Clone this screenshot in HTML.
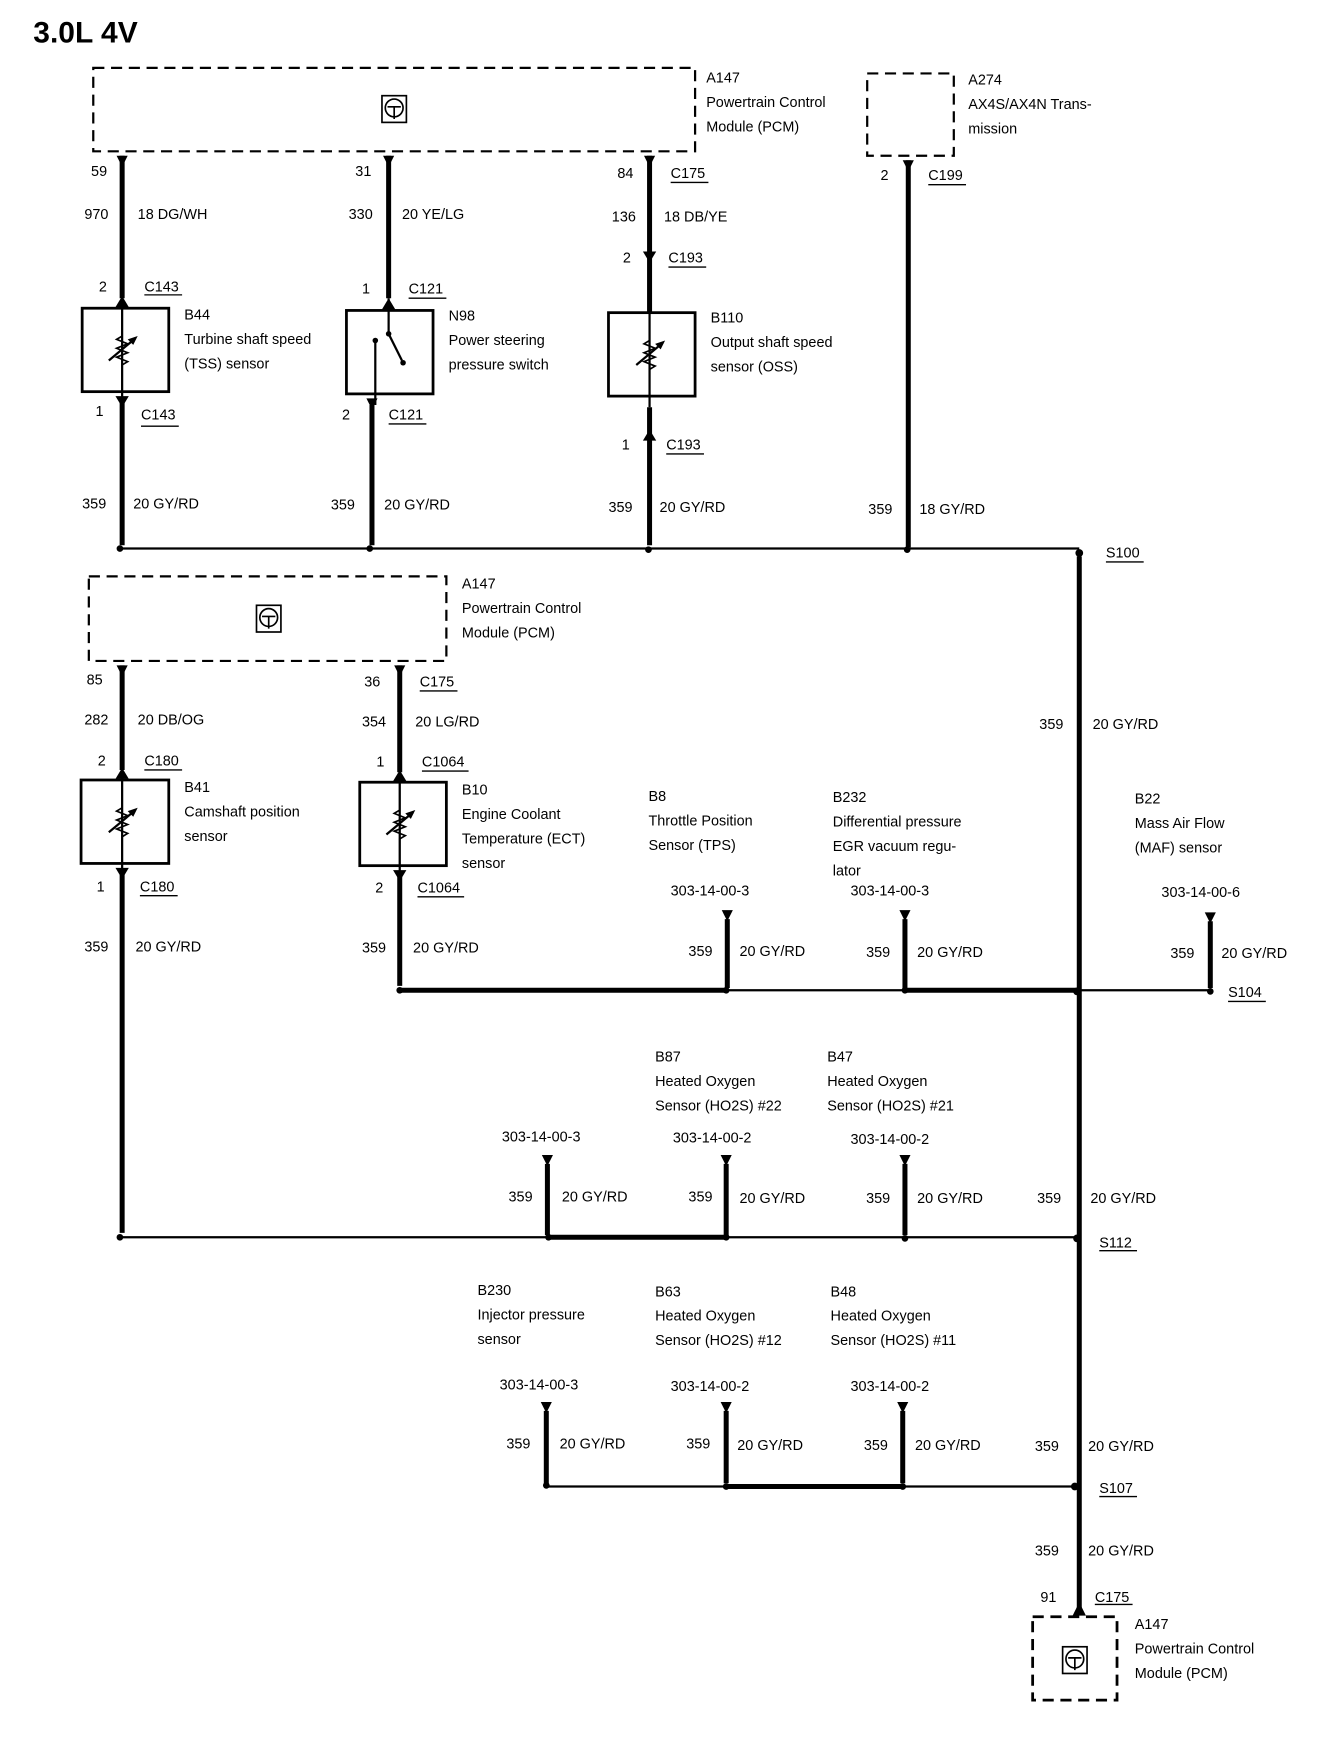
<!DOCTYPE html>
<html><head><meta charset="utf-8"><style>
html,body{margin:0;padding:0;background:#fff}
svg{display:block}
text{font-family:"Liberation Sans",sans-serif;font-size:13px;fill:#000}
</style></head><body>
<svg width="1328" height="1738" viewBox="0 0 1196 1562" preserveAspectRatio="none" xmlns="http://www.w3.org/2000/svg">
<defs>
<g id="res">
<path d="M0,-37 V-12 l-5,3 l10,4 l-10,4 l10,4 l-10,4 l10,4 l-5,3 V37" fill="none" stroke="#000" stroke-width="1.5"/>
<path d="M-12,10 L12,-10" stroke="#000" stroke-width="2"/>
<polygon points="14,-12 5,-9 10,-4" fill="#000"/>
</g>
<g id="pcm">
<rect x="-11" y="-12" width="22" height="24" fill="none" stroke="#000" stroke-width="1.5"/>
<circle cx="0" cy="-1" r="8" fill="none" stroke="#000" stroke-width="1.5"/>
<path d="M-6,-2 L6,-2 M0,-2 V9" stroke="#000" stroke-width="1.5"/>
</g>
<g id="tri"><polygon points="-5,0 5,0 0,10" fill="#000"/></g>
</defs>
<g stroke="#000" fill="none">
<!-- boxes dashed -->
<rect x="84" y="61" width="542" height="75" stroke-width="2" stroke-dasharray="10,6"/>
<rect x="781" y="66" width="78" height="74" stroke-width="2" stroke-dasharray="10,6"/>
<rect x="80" y="518" width="322" height="76" stroke-width="2" stroke-dasharray="10,6"/>
<rect x="930" y="1453" width="76" height="75" stroke-width="2.5" stroke-dasharray="10,6"/>
<!-- sensor boxes -->
<rect x="74" y="277" width="78" height="75" stroke-width="2.5"/>
<rect x="312" y="279" width="78" height="75" stroke-width="2.5"/>
<rect x="548" y="281" width="78" height="75" stroke-width="2.5"/>
<rect x="73" y="701" width="79" height="75" stroke-width="2.5"/>
<rect x="324" y="703" width="78" height="75" stroke-width="2.5"/>
<!-- thick wires -->
<g stroke-width="4.5">
<path d="M110,140 V268 M110,362 V490"/>
<path d="M350,140 V268 M335,364 V490"/>
<path d="M585,140 V280 M585,366 V490"/>
<path d="M818,144 V492"/>
<path d="M972,500 V1445"/>
<path d="M110,598 V692 M110,786 V1108"/>
<path d="M360,598 V694 M360,788 V886"/>
<path d="M655,826 V888 M815,826 V888 M1090,828 V888"/>
<path d="M493,1046 V1110 M654,1046 V1110 M815,1046 V1110"/>
<path d="M492,1268 V1333 M654,1268 V1333 M813,1268 V1333"/>
<path d="M360,890 H654 M815,890 H970"/>
<path d="M494,1112 H654"/>
<path d="M654,1336 H813"/>
</g>
<!-- thin wires -->
<g stroke-width="2">
<path d="M110,268 V362 M350,268 V300 L362,324 M338,306 V364 M585,280 V366"/>
<path d="M110,692 V786 M360,694 V788"/>
<path d="M108,493 H972"/>
<path d="M654,890 H815 M970,890 H1090"/>
<path d="M108,1112 H494 M654,1112 H970"/>
<path d="M492,1336 H654 M813,1336 H968"/>
</g>
<!-- underlines -->
<g stroke-width="1.2">
<path d="M130,265 H164 M127,383 H161 M368,268 H402 M350,381 H384 M604,164 H638 M602,240 H636 M600,408 H634 M836,166 H870 M996,505 H1030"/>
<path d="M130,692 H164 M126,805 H160 M378,621 H412 M380,693 H422 M376,806 H418 M1106,900 H1140 M990,1124 H1024 M990,1345 H1024 M986,1442 H1020"/>
</g>
</g>
<!-- connector chevrons -->
<g fill="#000">
<polygon points="105,140 115,140 110,150"/><polygon points="345,140 355,140 350,150"/><polygon points="580,140 590,140 585,150"/><polygon points="813,144 823,144 818,154"/>
<polygon points="104,276 116,276 110,266"/><polygon points="344,278 356,278 350,268"/><polygon points="579,226 591,226 585,236"/>
<polygon points="104,356 116,356 110,366"/><polygon points="330,358 340,358 335,368"/><polygon points="579,396 591,396 585,386"/>
<polygon points="105,598 115,598 110,608"/><polygon points="355,598 365,598 360,608"/>
<polygon points="104,700 116,700 110,690"/><polygon points="354,702 366,702 360,692"/>
<polygon points="104,780 116,780 110,790"/><polygon points="354,782 366,782 360,792"/>
<polygon points="966,1452 978,1452 972,1440"/>
<use href="#tri" x="655" y="818"/><use href="#tri" x="815" y="818"/><use href="#tri" x="1090" y="820"/>
<use href="#tri" x="493" y="1038"/><use href="#tri" x="654" y="1038"/><use href="#tri" x="815" y="1038"/>
<use href="#tri" x="492" y="1260"/><use href="#tri" x="654" y="1260"/><use href="#tri" x="813" y="1260"/>
<!-- dots -->
<circle cx="108" cy="493" r="3"/><circle cx="333" cy="493" r="3"/><circle cx="584" cy="494" r="3"/><circle cx="817" cy="494" r="3"/><circle cx="972" cy="497" r="3.5"/>
<circle cx="360" cy="890" r="3"/><circle cx="654" cy="890" r="3"/><circle cx="815" cy="890" r="3"/><circle cx="970" cy="891" r="3.5"/><circle cx="1090" cy="891" r="3"/>
<circle cx="108" cy="1112" r="3"/><circle cx="494" cy="1112" r="3"/><circle cx="654" cy="1112" r="3"/><circle cx="815" cy="1113" r="3"/><circle cx="970" cy="1113" r="3.5"/>
<circle cx="492" cy="1335" r="3"/><circle cx="654" cy="1336" r="3"/><circle cx="813" cy="1336" r="3"/><circle cx="968" cy="1336" r="3.5"/>
<circle cx="350" cy="300" r="2.5"/><circle cx="363" cy="326" r="2.5"/><circle cx="338" cy="306" r="2.5"/>
</g>
<use href="#res" x="110" y="314"/><use href="#res" x="585" y="318"/><use href="#res" x="110" y="738"/><use href="#res" x="360" y="740"/>
<use href="#pcm" x="355" y="98"/><use href="#pcm" x="242" y="556"/><use href="#pcm" x="968" y="1492"/>
<!-- title -->
<text x="30" y="38" style="font-size:27px;font-weight:bold">3.0L 4V</text>
<!-- labels top -->
<text x="636" y="74">A147</text><text x="636" y="96">Powertrain Control</text><text x="636" y="118">Module (PCM)</text>
<text x="872" y="76">A274</text><text x="872" y="98">AX4S/AX4N Trans-</text><text x="872" y="120">mission</text>
<text x="82" y="158">59</text><text x="76" y="197">970</text><text x="124" y="197">18 DG/WH</text>
<text x="89" y="262">2</text><text x="130" y="262">C143</text>
<text x="166" y="287">B44</text><text x="166" y="309">Turbine shaft speed</text><text x="166" y="331">(TSS) sensor</text>
<text x="86" y="374">1</text><text x="127" y="377">C143</text>
<text x="74" y="457">359</text><text x="120" y="457">20 GY/RD</text>
<text x="320" y="158">31</text><text x="314" y="197">330</text><text x="362" y="197">20 YE/LG</text>
<text x="326" y="264">1</text><text x="368" y="264">C121</text>
<text x="404" y="288">N98</text><text x="404" y="310">Power steering</text><text x="404" y="332">pressure switch</text>
<text x="308" y="377">2</text><text x="350" y="377">C121</text>
<text x="298" y="458">359</text><text x="346" y="458">20 GY/RD</text>
<text x="556" y="160">84</text><text x="604" y="160">C175</text><text x="551" y="199">136</text><text x="598" y="199">18 DB/YE</text>
<text x="561" y="236">2</text><text x="602" y="236">C193</text>
<text x="640" y="290">B110</text><text x="640" y="312">Output shaft speed</text><text x="640" y="334">sensor (OSS)</text>
<text x="560" y="404">1</text><text x="600" y="404">C193</text>
<text x="548" y="460">359</text><text x="594" y="460">20 GY/RD</text>
<text x="793" y="162">2</text><text x="836" y="162">C199</text>
<text x="782" y="462">359</text><text x="828" y="462">18 GY/RD</text>
<text x="996" y="501">S100</text>
<!-- middle -->
<text x="416" y="529">A147</text><text x="416" y="551">Powertrain Control</text><text x="416" y="573">Module (PCM)</text>
<text x="78" y="615">85</text><text x="76" y="651">282</text><text x="124" y="651">20 DB/OG</text>
<text x="88" y="688">2</text><text x="130" y="688">C180</text>
<text x="166" y="712">B41</text><text x="166" y="734">Camshaft position</text><text x="166" y="756">sensor</text>
<text x="87" y="801">1</text><text x="126" y="801">C180</text>
<text x="76" y="855">359</text><text x="122" y="855">20 GY/RD</text>
<text x="328" y="617">36</text><text x="378" y="617">C175</text><text x="326" y="653">354</text><text x="374" y="653">20 LG/RD</text>
<text x="339" y="689">1</text><text x="380" y="689">C1064</text>
<text x="416" y="714">B10</text><text x="416" y="736">Engine Coolant</text><text x="416" y="758">Temperature (ECT)</text><text x="416" y="780">sensor</text>
<text x="338" y="802">2</text><text x="376" y="802">C1064</text>
<text x="326" y="856">359</text><text x="372" y="856">20 GY/RD</text>
<text x="584" y="720">B8</text><text x="584" y="742">Throttle Position</text><text x="584" y="764">Sensor (TPS)</text>
<text x="604" y="805">303-14-00-3</text><text x="620" y="859">359</text><text x="666" y="859">20 GY/RD</text>
<text x="750" y="721">B232</text><text x="750" y="743">Differential pressure</text><text x="750" y="765">EGR vacuum regu-</text><text x="750" y="787">lator</text>
<text x="766" y="805">303-14-00-3</text><text x="780" y="860">359</text><text x="826" y="860">20 GY/RD</text>
<text x="1022" y="722">B22</text><text x="1022" y="744">Mass Air Flow</text><text x="1022" y="766">(MAF) sensor</text>
<text x="1046" y="806">303-14-00-6</text><text x="1054" y="861">359</text><text x="1100" y="861">20 GY/RD</text>
<text x="1106" y="896">S104</text>
<text x="936" y="655">359</text><text x="984" y="655">20 GY/RD</text>
<!-- S112 row -->
<text x="590" y="954">B87</text><text x="590" y="976">Heated Oxygen</text><text x="590" y="998">Sensor (HO2S) #22</text>
<text x="745" y="954">B47</text><text x="745" y="976">Heated Oxygen</text><text x="745" y="998">Sensor (HO2S) #21</text>
<text x="452" y="1026">303-14-00-3</text><text x="606" y="1027">303-14-00-2</text><text x="766" y="1028">303-14-00-2</text>
<text x="458" y="1080">359</text><text x="506" y="1080">20 GY/RD</text>
<text x="620" y="1080">359</text><text x="666" y="1081">20 GY/RD</text>
<text x="780" y="1081">359</text><text x="826" y="1081">20 GY/RD</text>
<text x="934" y="1081">359</text><text x="982" y="1081">20 GY/RD</text>
<text x="990" y="1121">S112</text>
<!-- S107 row -->
<text x="430" y="1164">B230</text><text x="430" y="1186">Injector pressure</text><text x="430" y="1208">sensor</text>
<text x="590" y="1165">B63</text><text x="590" y="1187">Heated Oxygen</text><text x="590" y="1209">Sensor (HO2S) #12</text>
<text x="748" y="1165">B48</text><text x="748" y="1187">Heated Oxygen</text><text x="748" y="1209">Sensor (HO2S) #11</text>
<text x="450" y="1249">303-14-00-3</text><text x="604" y="1250">303-14-00-2</text><text x="766" y="1250">303-14-00-2</text>
<text x="456" y="1302">359</text><text x="504" y="1302">20 GY/RD</text>
<text x="618" y="1302">359</text><text x="664" y="1303">20 GY/RD</text>
<text x="778" y="1303">359</text><text x="824" y="1303">20 GY/RD</text>
<text x="932" y="1304">359</text><text x="980" y="1304">20 GY/RD</text>
<text x="990" y="1342">S107</text>
<text x="932" y="1398">359</text><text x="980" y="1398">20 GY/RD</text>
<text x="937" y="1440">91</text><text x="986" y="1440">C175</text>
<text x="1022" y="1464">A147</text><text x="1022" y="1486">Powertrain Control</text><text x="1022" y="1508">Module (PCM)</text>
</svg>
</body></html>
